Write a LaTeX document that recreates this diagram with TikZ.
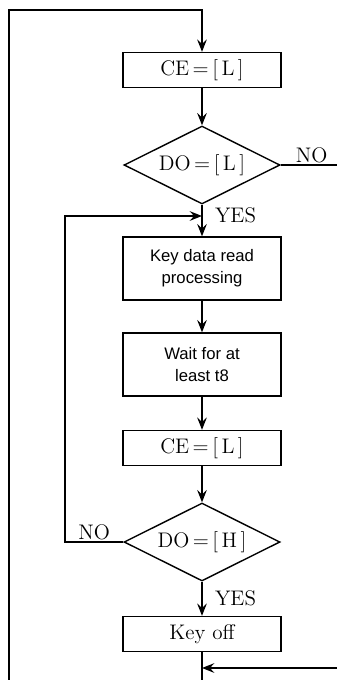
\documentclass[tikz,border=0pt]{standalone}
\usepackage{fontspec}
\setsansfont{Liberation Sans}
\usepackage{tikz}
\usetikzlibrary{shapes}
\usetikzlibrary{arrows.meta}
\tikzset{
	flownode/.style = {
		align=center,
		inner sep=0pt,
		text centered,
		draw=black,
		thick
	},
	node_box/.style = {
		flownode,
		rectangle,
		font=\fontsize{12}{14}\selectfont,
		minimum width=3.16cm,
		minimum height=0.70cm
	},
	node_tall/.style = {
		node_box,
		font=\sffamily\fontsize{9.5}{12.5}\selectfont,
		minimum height=1.26cm
	},
	node_dec/.style = {
		flownode,
		diamond,
		aspect=2,
		font=\fontsize{12}{14}\selectfont,
		minimum width=3.12cm,
		minimum height=1.56cm
	},
	node_lbl/.style = {
		font=\fontsize{12}{14}\selectfont,
		inner sep=1pt
	},
}

\begin{document}
\begin{tikzpicture}[x=0.02cm, y=-0.02cm, ->, >={Stealth[length=7pt,width=5.5pt,inset=2.5pt]}, thick]
\useasboundingbox (0,0) rectangle (337,680);
% steps
\node [node_box] (ce1) at (202,70) {CE$\,=\,$[\,L\,]};
\node [node_dec] (do1) at (202,165) {DO$\,=\,$[\,L\,]};
\node [node_tall] (read) at (202,268.5) {Key data read\\processing};
\node [node_tall] (wait) at (202,364.5) {Wait for at\\least t8};
\node [node_box] (ce2) at (202,448) {CE$\,=\,$[\,L\,]};
\node [node_dec] (do2) at (202,542) {DO$\,=\,$[\,H\,]};
\node [node_box] (off) at (202,634) {Key off};
% loose ends
\coordinate (outB) at (9,680);
\coordinate (outT) at (9,10);
\coordinate (noR) at (337,165);
\coordinate (loopL) at (65,542);
\coordinate (loopT) at (65,216);
\coordinate (join1) at (202,216);
\coordinate (inR) at (337,668);
\coordinate (join2) at (202,668);
\coordinate (endB) at (202,680);
% links
\draw (outB) -- (outT) -| (ce1.north);
\draw (ce1) -- (do1);
\draw [-] (do1.east) -- node [node_lbl, above, pos=0.55] {NO} (noR);
\draw (do1.south) -- node [node_lbl, right, xshift=6pt, pos=0.35] {YES} (read.north);
\draw (read) -- (wait);
\draw (wait) -- (ce2);
\draw (ce2) -- (do2);
\draw (do2.west) -- node [node_lbl, above, pos=0.5] {NO} (loopL) -- (loopT) -- (join1);
\draw (do2.south) -- node [node_lbl, right, xshift=6pt] {YES} (off.north);
\draw [-] (off.south) -- (endB);
\draw (inR) -- (join2);
\end{tikzpicture}
\end{document}
